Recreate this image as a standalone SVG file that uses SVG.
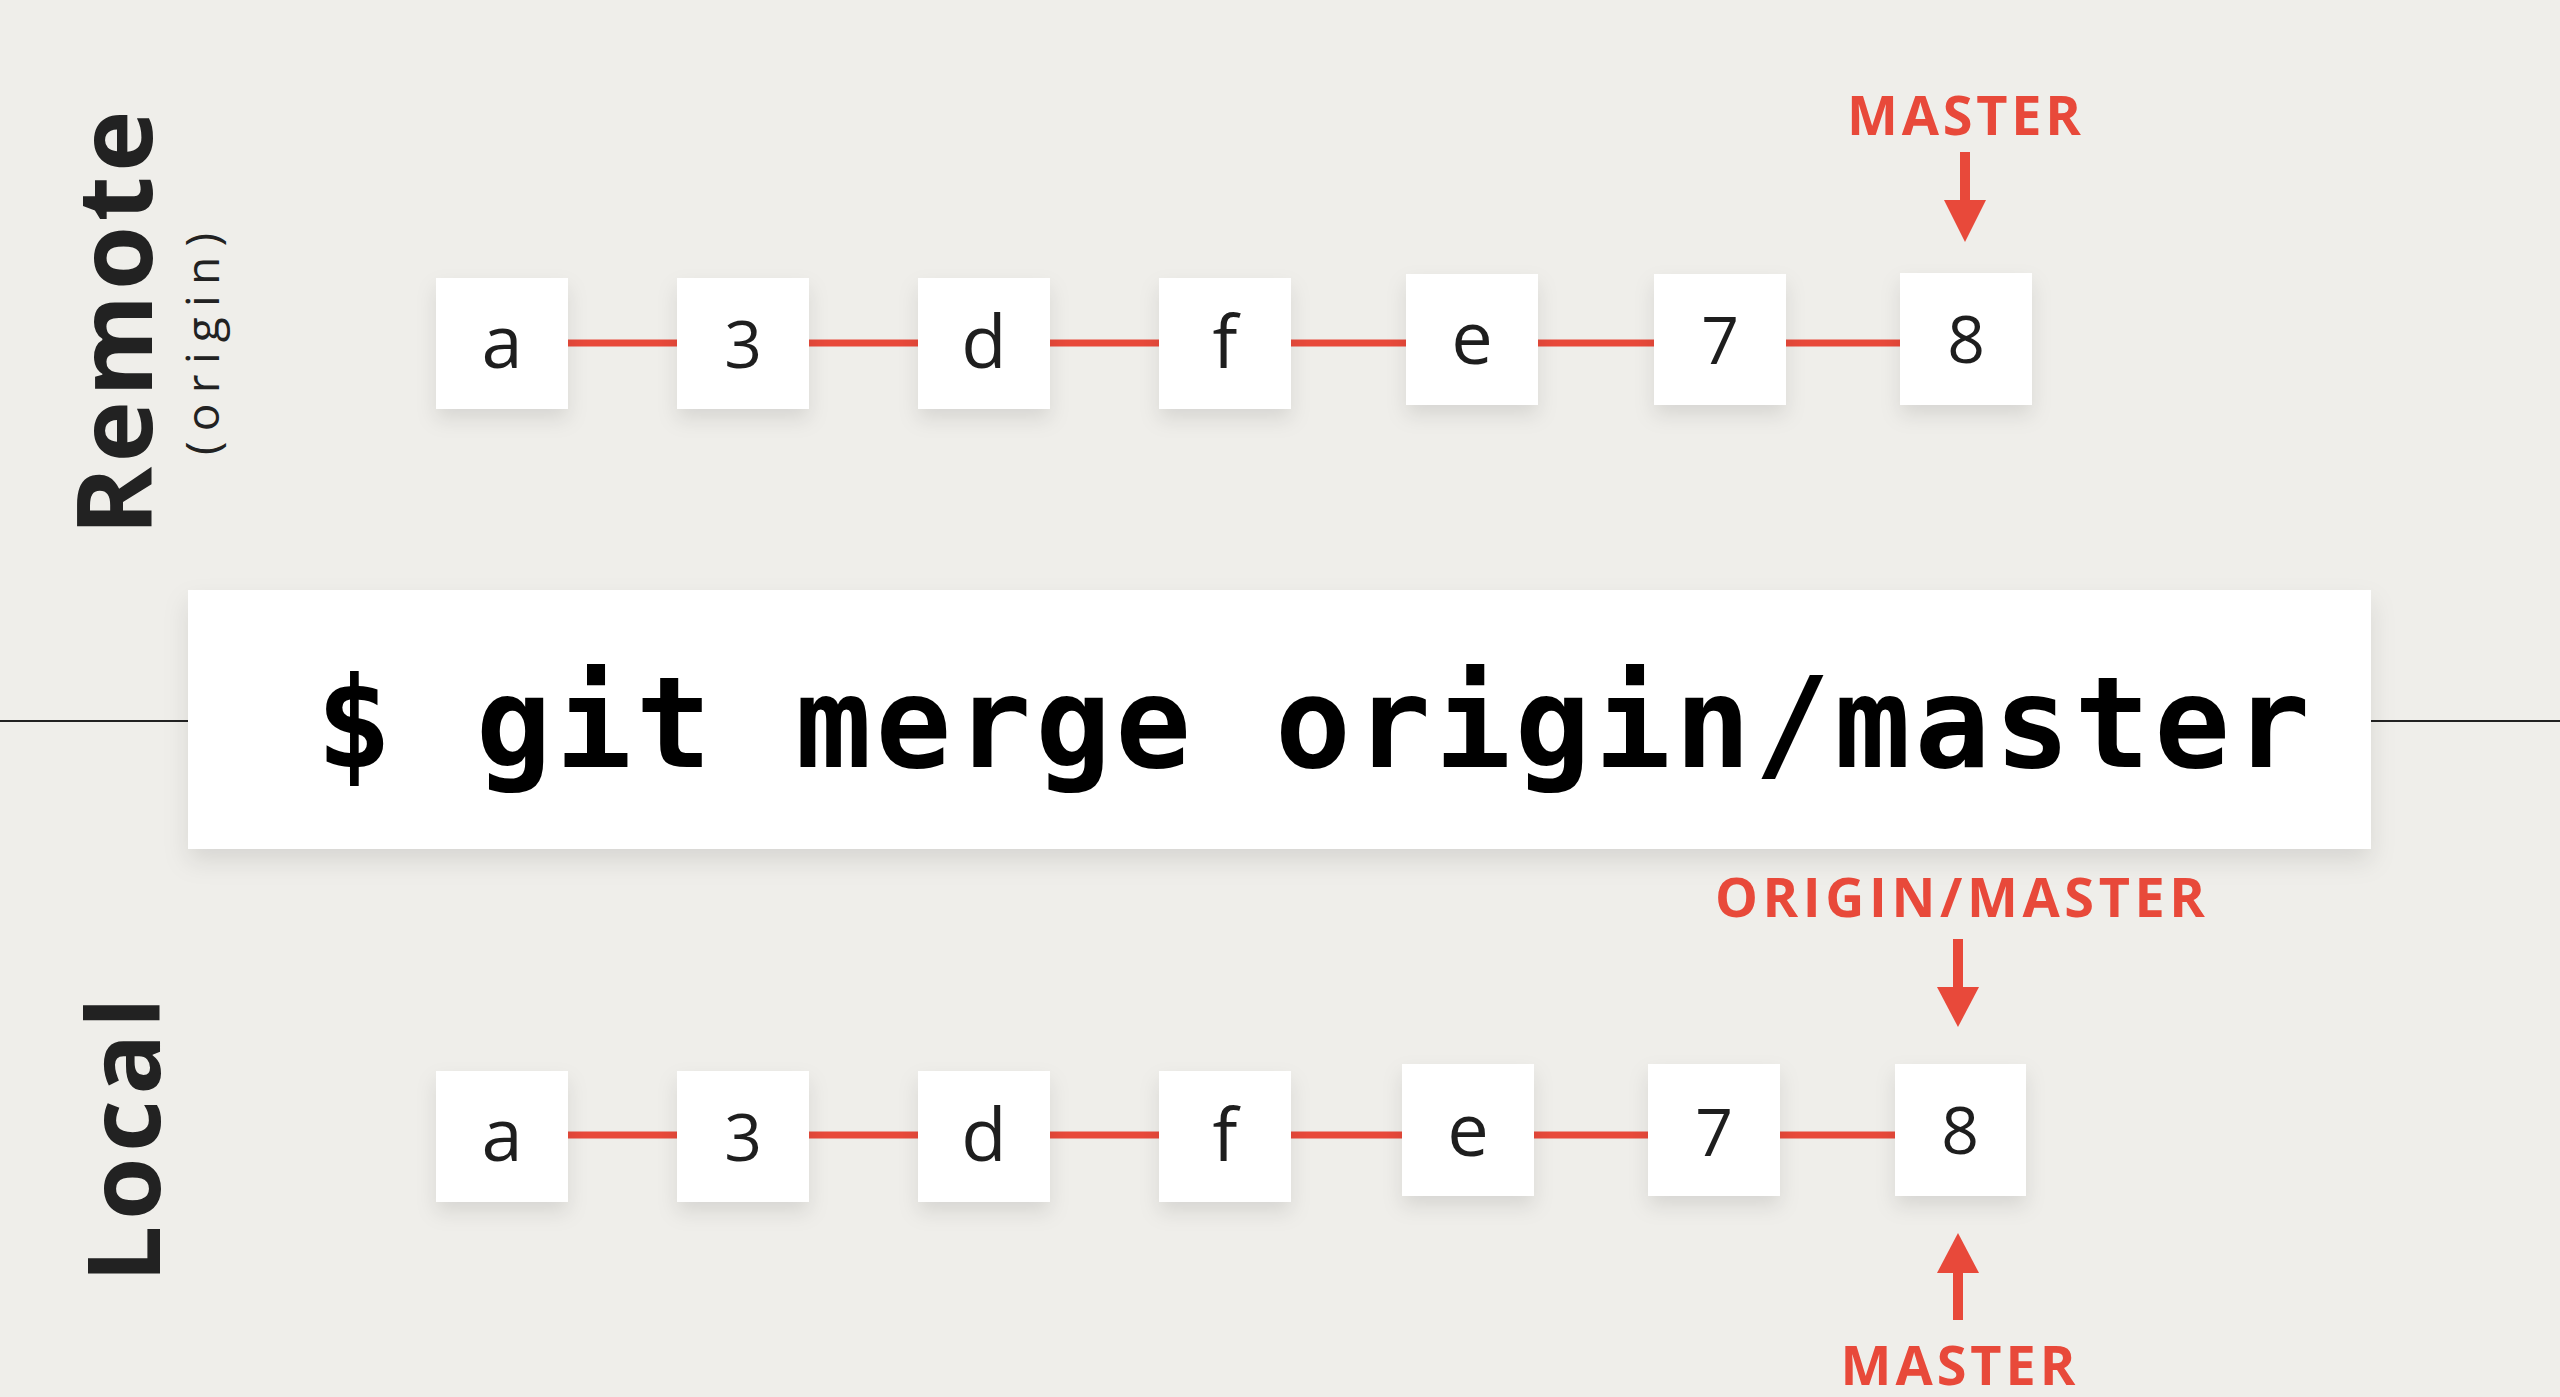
<svg xmlns="http://www.w3.org/2000/svg" width="2560" height="1397" viewBox="0 0 2560 1397">
<defs>
<filter id="sh" x="-30%" y="-30%" width="160%" height="170%">
<feDropShadow dx="0" dy="10" stdDeviation="10" flood-color="#000" flood-opacity="0.10"/>
</filter>
<filter id="shb" x="-5%" y="-20%" width="110%" height="150%">
<feDropShadow dx="0" dy="12" stdDeviation="12" flood-color="#000" flood-opacity="0.10"/>
</filter>
</defs>
<style>
.bg{fill:#efeeea}
.box{fill:#ffffff;filter:url(#sh)}
.lbl{font-family:"Open Sans","Noto Sans","Liberation Sans",sans-serif;font-size:66px;fill:#1e1e1e;text-anchor:middle}
.let{font-size:74px}
.side{font-family:"Open Sans","Noto Sans","Liberation Sans",sans-serif;font-weight:bold;fill:#222222;text-anchor:middle}
.sub{font-family:"Open Sans","Noto Sans","Liberation Sans",sans-serif;fill:#222222;text-anchor:middle}
.ptr{font-family:"Open Sans","Noto Sans","Liberation Sans",sans-serif;font-weight:bold;font-size:54px;fill:#e8493a;text-anchor:middle}
.edge{stroke:#e8493a;stroke-width:7;fill:none}
.arr{fill:#e8493a}
.cmd{font-family:"DejaVu Sans Mono","Liberation Mono",monospace;font-weight:bold;font-size:126px;fill:#000000}
</style>
<rect class="bg" x="0" y="0" width="2560" height="1397"/>

<g id="labels">
<text class="side" font-size="104" transform="translate(152,323) rotate(-90)" textLength="425" lengthAdjust="spacing">Remote</text>
<text class="sub" font-size="46" transform="translate(219,344) rotate(-90)" textLength="222" lengthAdjust="spacing">(origin)</text>
<text class="side" font-size="101" transform="translate(160,1140) rotate(-90)" textLength="285" lengthAdjust="spacing">Local</text>
</g>

<g id="divider">
<line x1="0" y1="721" x2="2560" y2="721" stroke="#222222" stroke-width="2"/>
</g>

<g id="command">
<rect x="188" y="590" width="2183" height="259" fill="#ffffff" filter="url(#shb)"/>
<text class="cmd" x="316" y="767" textLength="1994" lengthAdjust="spacing" xml:space="preserve">$ git merge origin/master</text>
</g>

<g id="connectors">
<line class="edge" x1="568" y1="343" x2="677" y2="343"/>
<line class="edge" x1="809" y1="343" x2="918" y2="343"/>
<line class="edge" x1="1050" y1="343" x2="1159" y2="343"/>
<line class="edge" x1="1291" y1="343" x2="1406" y2="343"/>
<line class="edge" x1="1538" y1="343" x2="1654" y2="343"/>
<line class="edge" x1="1786" y1="343" x2="1900" y2="343"/>
<line class="edge" x1="568" y1="1135" x2="677" y2="1135"/>
<line class="edge" x1="809" y1="1135" x2="918" y2="1135"/>
<line class="edge" x1="1050" y1="1135" x2="1159" y2="1135"/>
<line class="edge" x1="1291" y1="1135" x2="1402" y2="1135"/>
<line class="edge" x1="1534" y1="1135" x2="1648" y2="1135"/>
<line class="edge" x1="1780" y1="1135" x2="1895" y2="1135"/>
</g>

<g id="remote-a"><rect class="box" x="436" y="278" width="132" height="131"/><text class="lbl let" x="502" y="368">a</text></g>
<g id="remote-3"><rect class="box" x="677" y="278" width="132" height="131"/><text class="lbl" x="743" y="368">3</text></g>
<g id="remote-d"><rect class="box" x="918" y="278" width="132" height="131"/><text class="lbl let" x="984" y="368">d</text></g>
<g id="remote-f"><rect class="box" x="1159" y="278" width="132" height="131"/><text class="lbl let" x="1225" y="368">f</text></g>
<g id="remote-e"><rect class="box" x="1406" y="274" width="132" height="131"/><text class="lbl let" x="1472" y="364">e</text></g>
<g id="remote-7"><rect class="box" x="1654" y="274" width="132" height="131"/><text class="lbl" x="1720" y="364">7</text></g>
<g id="remote-8"><rect class="box" x="1900" y="273" width="132" height="132"/><text class="lbl" x="1966" y="363">8</text></g>

<g id="local-a"><rect class="box" x="436" y="1071" width="132" height="131"/><text class="lbl let" x="502" y="1161">a</text></g>
<g id="local-3"><rect class="box" x="677" y="1071" width="132" height="131"/><text class="lbl" x="743" y="1161">3</text></g>
<g id="local-d"><rect class="box" x="918" y="1071" width="132" height="131"/><text class="lbl let" x="984" y="1161">d</text></g>
<g id="local-f"><rect class="box" x="1159" y="1071" width="132" height="131"/><text class="lbl let" x="1225" y="1161">f</text></g>
<g id="local-e"><rect class="box" x="1402" y="1064" width="132" height="132"/><text class="lbl let" x="1468" y="1156">e</text></g>
<g id="local-7"><rect class="box" x="1648" y="1064" width="132" height="132"/><text class="lbl" x="1714" y="1156">7</text></g>
<g id="local-8"><rect class="box" x="1895" y="1064" width="131" height="132"/><text class="lbl" x="1960" y="1154">8</text></g>

<g id="ptr-remote-master">
<text class="ptr" x="1964" y="135" textLength="234" lengthAdjust="spacing">MASTER</text>
<rect class="arr" x="1960" y="152" width="10" height="50"/>
<polygon class="arr" points="1944,200 1986,200 1965,242"/>
</g>
<g id="ptr-local-origin-master">
<text class="ptr" x="1960" y="917" textLength="490" lengthAdjust="spacing">ORIGIN/MASTER</text>
<rect class="arr" x="1953" y="939" width="10" height="50"/>
<polygon class="arr" points="1937,987 1979,987 1958,1027"/>
</g>
<g id="ptr-local-master">
<text class="ptr" x="1958" y="1385" textLength="235" lengthAdjust="spacing">MASTER</text>
<polygon class="arr" points="1958,1233 1979,1273 1937,1273"/>
<rect class="arr" x="1953" y="1271" width="10" height="49"/>
</g>
</svg>
